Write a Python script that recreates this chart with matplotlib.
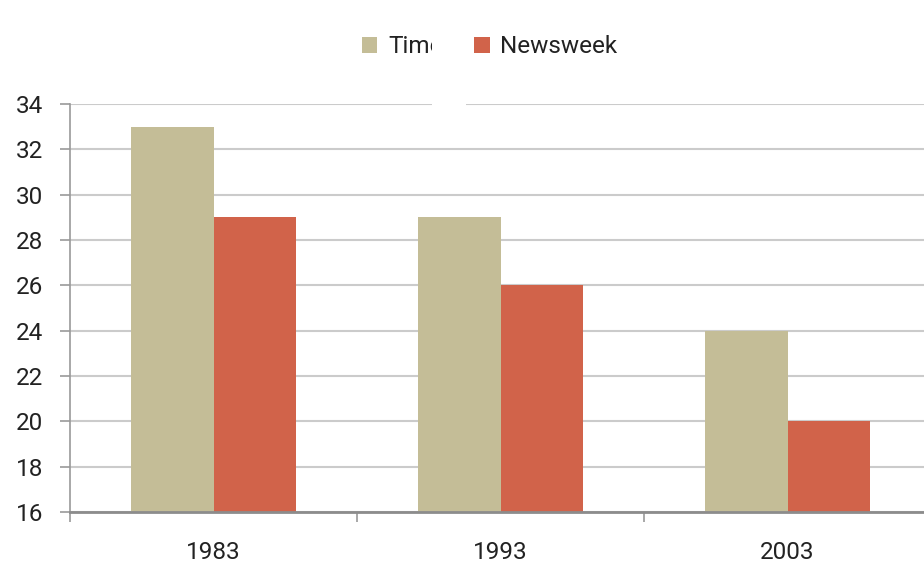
import matplotlib
matplotlib.use("Agg")
import matplotlib.pyplot as plt
import numpy as np
from matplotlib.transforms import Bbox

plt.rcParams['font.family'] = ['Roboto', 'DejaVu Sans']

categories = ['1983', '1993', '2003']
time_vals = [33, 29, 24]
newsweek_vals = [29, 26, 20]
series_names = ['Time', 'Newsweek']
yticks = [16, 18, 20, 22, 24, 26, 28, 30, 32, 34]

c_time = '#C4BD97'
c_news = '#D1634A'

fig = plt.figure(figsize=(9.24, 5.65), dpi=100)
W, H = 924, 565
ax = fig.add_axes([70 / W, (H - 512) / H, 861 / W, (512 - 104) / H])

x = np.arange(len(categories))
bw = 82 / 287
ax.bar(x - bw / 2, time_vals, width=bw * 1.01, color=c_time, label=series_names[0], zorder=3, linewidth=0)
ax.bar(x + bw / 2, newsweek_vals, width=bw, color=c_news, label=series_names[1], zorder=3, linewidth=0)

ax.set_xlim(-0.5, 2.5)
ax.set_ylim(16, 34)
ax.set_yticks(yticks)
ax.set_yticklabels([str(v) for v in yticks])
ax.set_xticks(x)
ax.set_xticklabels(categories)
ax.set_xticks([-0.5, 0.5, 1.5, 2.5], minor=True)
ax.tick_params(axis='x', which='major', length=0, pad=21, labelsize=17.5, colors='#222222')
ax.tick_params(axis='x', which='minor', length=7, width=1.2, color='#999999', direction='out')
ax.tick_params(axis='y', length=7, width=1.2, color='#999999', pad=12, labelsize=17.5, labelcolor='#222222')

ax.grid(axis='y', color='#CBCBCB', linewidth=1.5, zorder=0)
for s in ['top', 'right']:
    ax.spines[s].set_visible(False)
ax.spines['left'].set_color('#999999')
ax.spines['left'].set_linewidth(1.2)
ax.spines['bottom'].set_color('#8C8C8C')
ax.spines['bottom'].set_linewidth(2)
ax.spines['bottom'].set_zorder(4)

leg = fig.legend(loc='center', bbox_to_anchor=(490 / W, 1 - 47 / H), ncol=2, frameon=False,
                 fontsize=17.5, handlelength=0.62, handleheight=0.62, handletextpad=0.45,
                 columnspacing=1.3, labelcolor='#222222')

# white gap over the top gridline under the legend
ax.add_patch(plt.Rectangle((432 / W, (H - 110) / H), 34 / W, 12 / H, transform=fig.transFigure,
                           facecolor='white', edgecolor='none', zorder=10, clip_on=False))

t = leg.get_texts()[0]
t.set_clip_box(Bbox.from_extents(0, 0, 432, H))
t.set_clip_on(True)

fig.savefig('out.png', dpi=100)
